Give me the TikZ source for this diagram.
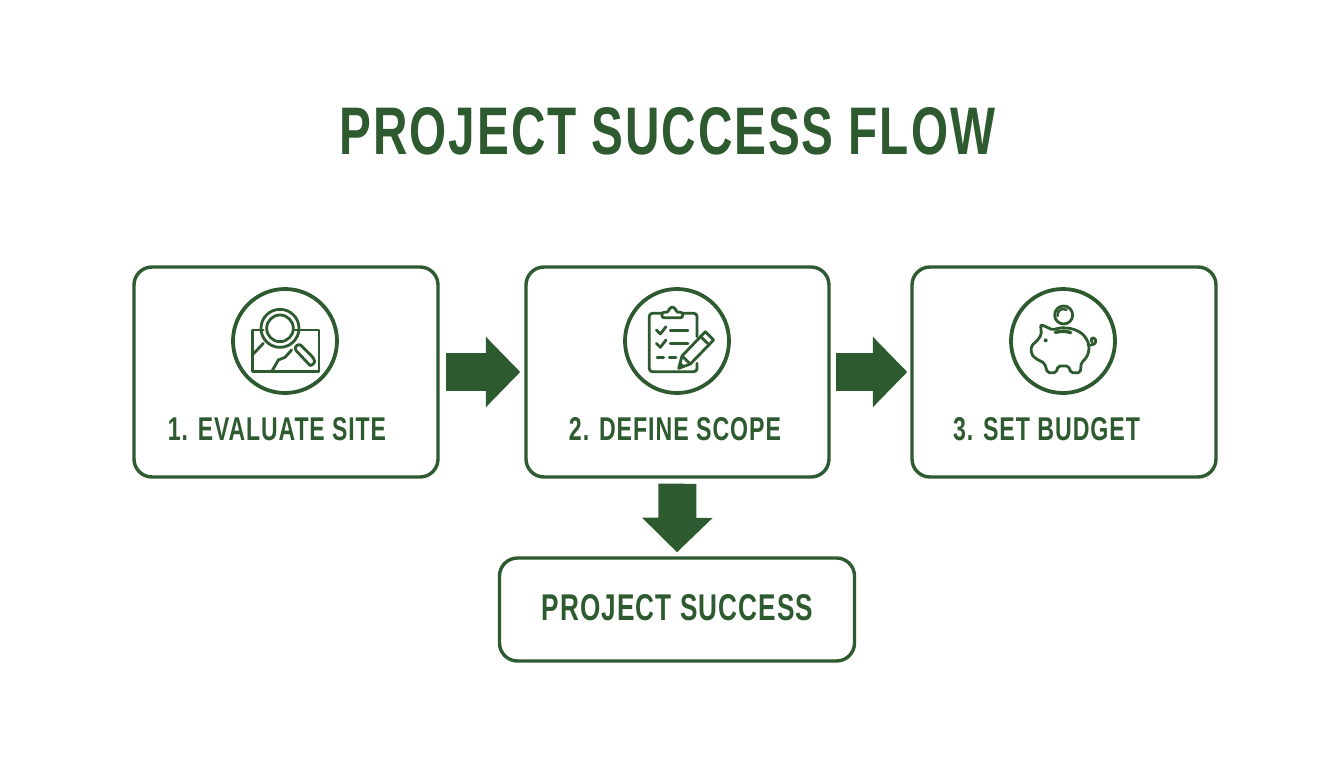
\documentclass[tikz,border=0pt]{standalone}
\usepackage{graphicx}
\usepackage{fontspec}
\setmainfont{Liberation Sans}[LetterSpace=4]
\usetikzlibrary{arrows.meta}
\definecolor{fg}{HTML}{2D5A2E}
\newcommand{\fit}[3]{\resizebox{#1pt}{#2pt}{\bfseries #3}}
\tikzset{
  card/.style={draw=fg,line width=3.4pt,rounded corners=18pt,fill=white,inner sep=0pt},
  lab/.style={text=fg,inner sep=0pt,anchor=center},
  ring/.style={draw=fg,line width=3.8pt,fill=white,circle,minimum size=104pt,inner sep=0pt},
  flowh/.style={draw=fg,line width=38pt,-{Triangle[length=34.5pt,width=68.5pt]}},
  ic/.style={draw=fg,line width=2.8pt,line cap=round,line join=round},
}
\begin{document}
\begin{tikzpicture}[x=1pt,y=-1pt]
\useasboundingbox (0,0) rectangle (1344,768);
\fill[white] (0,0) rectangle (1344,768);
\node[lab] (title) at (667.5,131) {\fit{655}{47}{PROJECT SUCCESS FLOW}};
\node[card,minimum width=304pt,minimum height=210pt] (b1) at (286,372) {};
\node[card,minimum width=303pt,minimum height=210pt] (b2) at (677.5,372) {};
\node[card,minimum width=304pt,minimum height=210pt] (b3) at (1064,372) {};
\node[card,minimum width=355pt,minimum height=103pt] (b4) at (677,609.5) {};
\node[ring] (r1) at (285,341) {};
\node[ring] (r2) at (677,341) {};
\node[ring] (r3) at (1063,341) {};
\node[lab] (t1) at (277,429.5) {\fit{218}{23}{1. EVALUATE SITE}};
\node[lab] (t2) at (675,429.5) {\fit{212}{23}{2. DEFINE SCOPE}};
\node[lab] (t3) at (1046.5,429.5) {\fit{187}{23}{3. SET BUDGET}};
\node[lab] (t4) at (677.5,608) {\fit{271}{26}{PROJECT SUCCESS}};
\draw[flowh,shorten <=6pt,shorten >=4pt] (b1.east) -- (b2.west);
\draw[flowh,shorten <=5pt,shorten >=3pt] (b2.east) -- (b3.west);
\draw[flowh,shorten <=5pt,shorten >=4pt] (b2.south) -- (b4.north);
% map and magnifier
\begin{scope}[shift={(220,280)},x=0.3333pt,y=-0.3333pt]
  \draw[ic] (130,150) -- (97,150) -- (97,275) -- (297,275) -- (297,150) -- (225,150);
  \draw[ic] (97,225) -- (130,190);
  \draw[ic] (155,275) -- (175,240) -- (195,232) -- (215,210);
  \draw[ic] (180,145) circle (57);
  \draw[ic] (180,145) circle (40);
  \draw[ic,rounded corners=3pt] (222,205) -- (237,190) -- (282,235) .. controls (285,250) and (272,258) .. (264,250) -- cycle;
\end{scope}
% clipboard
\begin{scope}[shift={(612,280)},x=0.3333pt,y=-0.3333pt]
  \draw[ic,rounded corners=3pt] (255,170) -- (255,100) -- (212,100);
  \draw[ic,rounded corners=3pt] (150,100) -- (112,100) -- (112,275) -- (255,275) -- (255,250);
  \draw[ic,rounded corners=2pt] (150,113) -- (150,97) -- (170,97) -- (172,82) -- (190,82) -- (192,97) -- (212,97) -- (212,113) -- cycle;
  \draw[ic] (133,150) -- (145,162) -- (162,140);
  \draw[ic] (133,190) -- (145,202) -- (162,180);
  \draw[ic] (175,152) -- (228,152);
  \draw[ic] (175,190) -- (228,190);
  \draw[ic] (135,232) -- (155,232);
  \draw[ic] (172,232) -- (192,232);
  \draw[ic] (200,265) -- (210,228) -- (280,155) -- (305,180) -- (235,252) -- cycle;
  \draw[ic] (210,228) -- (235,252);
  \draw[ic] (266,170) -- (291,194);
  \fill[fg] (200,265) -- (205,245) -- (220,260) -- cycle;
\end{scope}
% piggy bank
\begin{scope}[shift={(998,280)},x=0.3333pt,y=-0.3333pt]
  \draw[ic] (197,105) circle (27);
  \draw[ic,line width=2.4pt] (179,108) arc (170:300:18);
  \draw[ic,rounded corners=2pt] (165,150) .. controls (195,138) and (240,145) .. (262,172)
     .. controls (280,200) and (272,230) .. (250,247)
     -- (247,278) -- (218,278) -- (212,258) -- (180,258) -- (175,278) -- (148,278) -- (140,250)
     -- (112,235) -- (100,222) -- (100,197) -- (115,185) -- (130,165) -- (128,133) -- cycle;
  \fill[fg] (143,181) circle (6);
  \draw[ic,line width=3.4pt] (172,157) .. controls (190,153) and (205,153) .. (218,158);
  \draw[ic] (270,195) .. controls (285,197) and (298,190) .. (292,178) .. controls (285,168) and (275,178) .. (282,186);
\end{scope}
\end{tikzpicture}
\end{document}
